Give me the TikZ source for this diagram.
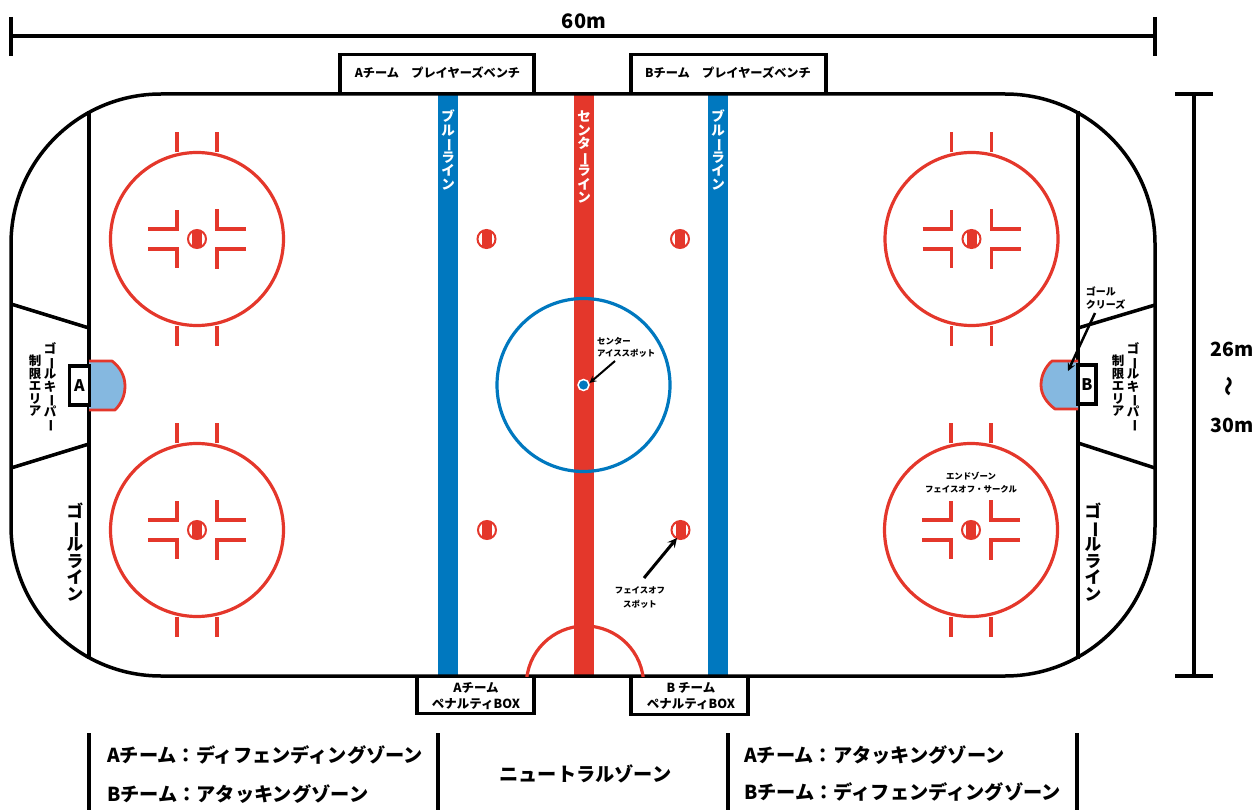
\documentclass[tikz,border=0pt]{standalone}
\usepackage{fontspec}
\setmainfont{Noto Sans CJK JP}
\usetikzlibrary{positioning}

\definecolor{rinkred}{HTML}{E4372B}
\definecolor{rinkblue}{HTML}{0078BF}
\definecolor{creaseblue}{HTML}{85B8E0}

\setlength{\lineskiplimit}{-20pt}

% barra vertical do texto empilhado
\newcommand{\cho}{\smash{\rotatebox[origin=c]{-90}{ー}}}

\tikzset{
    wall/.style={draw=black, line width=3.5pt},
    redline/.style={draw=rinkred, line width=3.2pt},
    crease/.style={draw=rinkred, line width=2.8pt, fill=creaseblue, line join=round},
    callout/.style={->, >=stealth, draw=black},
    lbl/.style={inner sep=0pt, font=\bfseries\fontsize{#1}{#1}\selectfont},
    stack/.style={inner sep=0pt, align=center, font=\bfseries\fontsize{#1}{#1}\selectfont},
    zone/.style={inner sep=0pt, anchor=west, font=\bfseries\fontsize{19.2}{20}\selectfont},
}

\begin{document}
\begin{tikzpicture}[x=1pt, y=-1pt]
    \useasboundingbox (0,0) rectangle (1255,810);

    % linhas largas
    \fill[rinkblue] (438,94) rectangle (458,676);
    \fill[rinkblue] (708,94) rectangle (728,676);
    \fill[rinkred] (574,94) rectangle (594,676);

    % rink
    \draw[wall, rounded corners=150pt] (11,94) rectangle (1155,676);

    % golo
    \coordinate (goalAtop) at (89,111);
    \coordinate (goalAbot) at (89,659);
    \coordinate (goalBtop) at (1078,111);
    \coordinate (goalBbot) at (1078,659);
    \draw[wall] (goalAtop) -- (goalAbot);
    \draw[wall] (goalBtop) -- (goalBbot);

    \draw[wall] (11,304) -- (89,328);
    \draw[wall] (11,468) -- (89,444);
    \draw[wall] (1078,328) -- (1155,305);
    \draw[wall] (1078,443) -- (1155,468);

    \draw[crease] (89,361) -- (112,361) .. controls (120,367) and (125,376) .. (125,386)
        .. controls (125,396) and (121,404) .. (115,410) -- (89,410);
    \draw[crease] (1078,361) -- (1052,361) .. controls (1045,367) and (1041,376) .. (1041,385)
        .. controls (1041,395) and (1047,403) .. (1055,409) -- (1078,409);

    \node[wall, fill=white, minimum width=20pt, minimum height=39pt, lbl=16] (boxA) at (79.5,385.5) {A};
    \node[wall, fill=white, minimum width=18pt, minimum height=39pt, lbl=16] (boxB) at (1087,384.5) {B};

    % circulos de face-off
    \foreach \cx/\cy in {197/239, 197/530, 971.5/239, 971/530}{
        \begin{scope}[shift={(\cx,\cy)}]
            \draw[redline] (0,0) circle (86.5);
            \draw[redline] (-20,-87) -- (-20,-107);
            \draw[redline] (20,-87) -- (20,-107);
            \draw[redline] (-20,87) -- (-20,107);
            \draw[redline] (20,87) -- (20,107);
            \draw[redline] (-49,-10) -- (-20,-10) -- (-20,-29);
            \draw[redline] (49,-10) -- (20,-10) -- (20,-30);
            \draw[redline] (-49,10) -- (-20,10) -- (-20,29);
            \draw[redline] (49,10) -- (20,10) -- (20,30);
        \end{scope}
    }

    % pontos vermelhos
    \foreach \cx/\cy in {197/239, 197/530, 971.5/239, 971/530, 486.5/239, 680/239, 487/530, 680.5/530}{
        \begin{scope}[shift={(\cx,\cy)}]
            \begin{scope}
                \clip (0,0) circle (9);
                \fill[rinkred] (-5,-9) rectangle (5,9);
            \end{scope}
            \draw[draw=rinkred, line width=2pt] (0,0) circle (9);
        \end{scope}
    }

    % meio
    \draw[draw=rinkblue, line width=3.2pt] (583.5,385) circle (86.5);
    \coordinate (centerSpot) at (583.5,385);
    \draw[draw=white, fill=rinkblue, line width=1.5pt] (centerSpot) circle (5.5);

    \begin{scope}
        \clip (500,600) rectangle (574,676);
        \draw[redline] (585,684.6) circle (58.6);
    \end{scope}
    \begin{scope}
        \clip (594,600) rectangle (670,676);
        \draw[redline] (585,684.6) circle (58.6);
    \end{scope}

    % bancos
    \draw[wall, line join=miter] (340,94) -- (340,54.5) -- (534,54.5) -- (534,94);
    \draw[wall, line join=miter] (631,94) -- (631,54.5) -- (826,54.5) -- (826,94);
    \node[lbl=12.2] (benchA) at (437.5,73) {Aチーム　プレイヤーズベンチ};
    \node[lbl=12.2] (benchB) at (728,73) {Bチーム　プレイヤーズベンチ};

    \draw[wall] (417,676) -- (417,713.5) -- (534,713.5) -- (534,676);
    \draw[wall] (631,676) -- (631,714.5) -- (748,714.5) -- (748,676);
    \node[stack=12.5] (penaltyA) at (476,696) {Aチーム\\[3.5pt]ペナルティBOX};
    \node[stack=12.5] (penaltyB) at (691,696) {B チーム\\[3.5pt]ペナルティBOX};

    % textos verticais
    \node[stack=13.5, text=white] (blueA) at (448,150) {ブ\\ル\\\cho\\ラ\\イ\\ン};
    \node[stack=13.5, text=white] (blueB) at (718,150) {ブ\\ル\\\cho\\ラ\\イ\\ン};
    \node[stack=13.5, text=white] (centerLine) at (584,157) {セ\\ン\\タ\\\cho\\ラ\\イ\\ン};
    \node[stack=16.7] (goalLineA) at (75,552) {ゴ\\\cho\\ル\\ラ\\イ\\ン};
    \node[stack=16.7] (goalLineB) at (1093,552) {ゴ\\\cho\\ル\\ラ\\イ\\ン};
    \node[stack=12.5] (keeperA) at (50,386) {ゴ\\\cho\\ル\\キ\\\cho\\パ\\\cho};
    \node[stack=12.5] (limitA) at (35,386) {制\\限\\エ\\リ\\ア};
    \node[stack=12.5] (keeperB) at (1133,386) {ゴ\\\cho\\ル\\キ\\\cho\\パ\\\cho};
    \node[stack=12.5] (limitB) at (1118,386) {制\\限\\エ\\リ\\ア};

    % setas
    \node[lbl=10, align=left] (creaseText) at (1105.5,298) {ゴール\\[3pt]クリーズ};
    \coordinate (creaseFrom) at (1095,313);
    \coordinate (creaseTo) at (1068,371);
    \draw[callout, line width=2.5pt] (creaseFrom) -- (creaseTo);

    \node[lbl=8.4, align=left, anchor=west] (centerText) at (597,347.5) {センター\\[4pt]アイススポット};
    \coordinate (centerFrom) at (615,361);
    \coordinate (centerTo) at (589.5,383);
    \draw[callout, line width=2pt] (centerFrom) -- (centerTo);

    \node[lbl=8.4, align=center] (faceText) at (640,597.5) {フェイスオフ\\[5pt]スポット};
    \coordinate (faceFrom) at (644,578);
    \coordinate (faceTo) at (677,538);
    \draw[callout, line width=3pt] (faceFrom) -- (faceTo);

    \node[lbl=8.4, align=center] (endText) at (971,482.5) {エンドゾーン\\[5pt]フェイスオフ・サークル};

    % medidas
    \coordinate (widthL) at (11,36);
    \coordinate (widthR) at (1155,36);
    \draw[wall] (widthL) -- (widthR);
    \draw[wall] (11,17) -- (11,56);
    \draw[wall] (1155,17) -- (1155,56);
    \node[lbl=20] (widthText) at (584,21) {60m};

    \coordinate (heightT) at (1194,94);
    \coordinate (heightB) at (1194,676);
    \draw[wall] (heightT) -- (heightB);
    \draw[wall] (1175,94) -- (1213,94);
    \draw[wall] (1175,676) -- (1213,676);
    \node[lbl=19.5] (heightA) at (1232,349) {26m};
    \node[lbl=20, rotate=90] (heightTilde) at (1231,386) {〜};
    \node[lbl=19.5] (heightC) at (1232,425) {30m};

    % zonas
    \draw[wall] (89,733) -- (89,810);
    \draw[wall] (438,733) -- (438,810);
    \draw[wall] (728,733) -- (728,810);
    \draw[wall] (1077,733) -- (1077,810);
    \node[zone] (zoneA1) at (107,755) {Aチーム：ディフェンディングゾーン};
    \node[zone] (zoneA2) at (107,794) {Bチーム：アタッキングゾーン};
    \node[zone, anchor=center] (zoneN) at (585.5,774) {ニュートラルゾーン};
    \node[zone] (zoneB1) at (744,755) {Aチーム：アタッキングゾーン};
    \node[zone] (zoneB2) at (744,792) {Bチーム：ディフェンディングゾーン};
\end{tikzpicture}
\end{document}
